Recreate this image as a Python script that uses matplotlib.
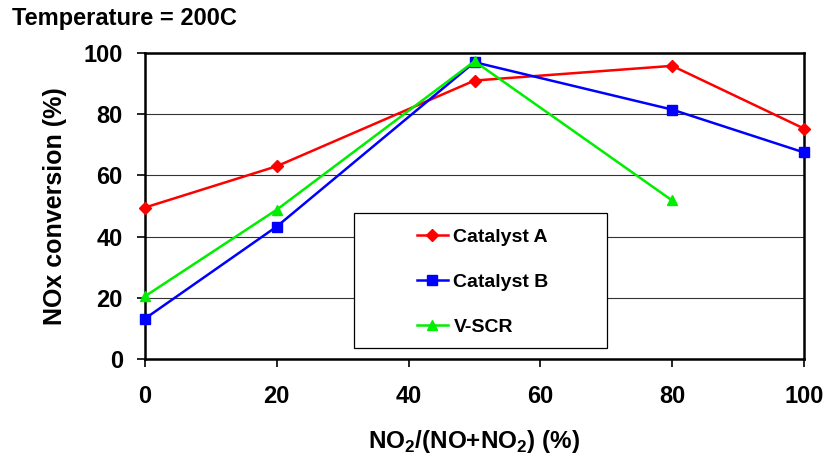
import matplotlib.pyplot as plt
from matplotlib.patches import Rectangle

no2_frac = [0, 20, 50, 80, 100]
catalyst_a = [49.5, 63, 91, 95.8, 75.3]
catalyst_b = [13.2, 43.3, 97, 81.5, 67.5]
vscr_x = [0, 20, 50, 80]
vscr = [20.5, 48.8, 97.3, 51.8]

plt.rcParams['font.family'] = ['Liberation Sans', 'DejaVu Sans']
plt.rcParams['font.weight'] = 'bold'
plt.rcParams['mathtext.fontset'] = 'custom'
plt.rcParams['mathtext.rm'] = 'Liberation Sans:bold'
plt.rcParams['mathtext.bf'] = 'Liberation Sans:bold'

fig = plt.figure(figsize=(8.26, 4.62), dpi=100)
ax = fig.add_axes([145 / 826, 1 - 359 / 462, 659 / 826, 306 / 462])

ax.plot(no2_frac, catalyst_a, color='#ff0000', marker='D', markersize=6.5, lw=1.8,
        label='Catalyst A', clip_on=False, zorder=3)
ax.plot(no2_frac, catalyst_b, color='#0000ff', marker='s', markersize=6.5, lw=1.8,
        label='Catalyst B', clip_on=False, zorder=3)
ax.plot(vscr_x, vscr, color='#00ee00', marker='^', markersize=7.5, lw=1.8,
        label='V-SCR', clip_on=False, zorder=3)

ax.set_xlim(0, 100)
ax.set_ylim(0, 100)
ax.set_xticks(range(0, 101, 20))
ax.set_yticks(range(0, 101, 20))
ax.yaxis.grid(True, color='#333333', lw=0.8)
ax.set_axisbelow(True)
for s in ax.spines.values():
    s.set_linewidth(1.8)
    s.set_color('black')
ax.tick_params(axis='both', labelsize=17, width=1.2, length=6, direction='out')
ax.tick_params(axis='x', pad=13)
ax.tick_params(axis='y', pad=10)
for lbl in ax.get_xticklabels() + ax.get_yticklabels():
    lbl.set_fontweight('bold')

ax.set_ylabel('NOx conversion (%)', fontsize=18, fontweight='bold', labelpad=12)
ax.set_xlabel(r'NO$_\mathrm{2}$/(NO+NO$_\mathrm{2}$) (%)', fontsize=17.5, fontweight='bold', labelpad=14)
fig.text(12 / 826, 1 - 18 / 462, 'Temperature = 200C', fontsize=17, fontweight='bold', va='center')

# legend box drawn separately so the entries can sit off-centre like the original
ax.add_patch(Rectangle((0.317, 0.036), 0.384, 0.441, transform=ax.transAxes,
                       facecolor='white', edgecolor='black', lw=0.9, zorder=2))
leg = ax.legend(loc='center left', bbox_to_anchor=(0.412, 0.252), frameon=False,
                prop={'weight': 'bold', 'size': 14}, handlelength=1.6, handletextpad=0.3,
                labelspacing=1.4, borderpad=0, borderaxespad=0)
leg.set_zorder(5)

fig.savefig('out.png', dpi=100)
